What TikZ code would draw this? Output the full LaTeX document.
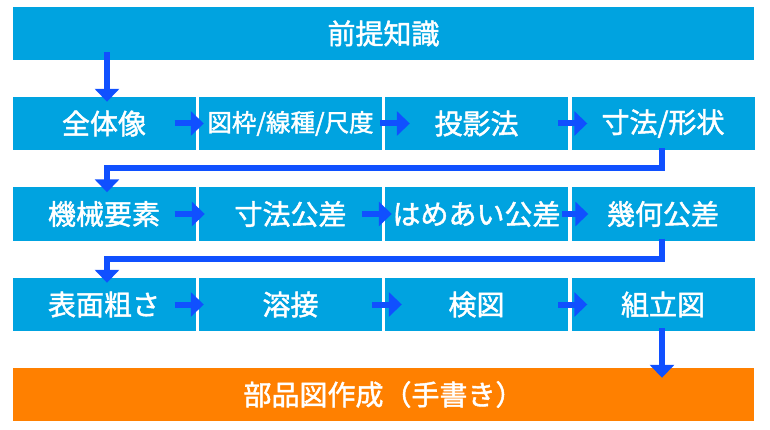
\documentclass[tikz,border=0pt]{standalone}
\usepackage{fontspec}
\newfontfamily\jp[FakeBold=1.6]{Noto Sans CJK JP}
\usetikzlibrary{arrows.meta,calc}
\definecolor{boxblue}{RGB}{0,163,224}
\definecolor{arrblue}{RGB}{16,80,255}
\definecolor{boxorange}{RGB}{255,128,0}
\begin{document}
\begin{tikzpicture}[x=1pt,y=-1pt,
  cell/.style={fill=boxblue, minimum width=183pt, minimum height=53pt, inner sep=0pt, text=white, font=\jp\fontsize{28}{28}\selectfont},
  wide/.style={cell, minimum width=741pt},
  flow/.style={draw=arrblue, line width=6pt, -{Triangle[width=24pt,length=13pt]}}]
\useasboundingbox (0,0) rectangle (770,430);
\node[wide] (top) at (383.5,33.5) {前提知識};
\node[cell] (r11) at (104,123.5) {全体像};
\node[cell, font=\jp\fontsize{24.5}{24.5}\selectfont] (r12) at (290.5,123.5) {図枠/線種/尺度};
\node[cell] (r13) at (476.5,123.5) {投影法};
\node[cell] (r14) at (663,123.5) {寸法/形状};
\node[cell] (r21) at (104,214) {機械要素};
\node[cell] (r22) at (290.5,214) {寸法公差};
\node[cell] (r23) at (476.5,214) {はめあい公差};
\node[cell] (r24) at (663,214) {幾何公差};
\node[cell] (r31) at (104,304.5) {表面粗さ};
\node[cell] (r32) at (290.5,304.5) {溶接};
\node[cell] (r33) at (476.5,304.5) {検図};
\node[cell] (r34) at (663,304.5) {組立図};
\node[wide, fill=boxorange] (bot) at (383.5,394.5) {部品図作成（手書き）};
% vertical and wrap-around connectors
\draw[flow] ($(top.south -| r11.north)+(3,-8)$) -- ($(r11.north)+(3,5)$);
\draw[flow] ($(r14.south)+(-1,-2)$) |- ($(r21.north)+(3,-19)$) -- ($(r21.north)+(3,5)$);
\draw[flow] ($(r24.south)+(-1,-2)$) |- ($(r31.north)+(3,-19)$) -- ($(r31.north)+(3,5)$);
\draw[flow] ($(r34.south)+(-1,-3)$) -- ($(bot.north -| r34.south)+(-1,10)$);
% row 1
\draw[flow] ($(r11.east)+(-21,0)$) -- ($(r12.west)+(5,0)$);
\draw[flow] ($(r12.east)+(-2,0)$) -- ($(r13.west)+(25,0)$);
\draw[flow] ($(r13.east)+(-10,0)$) -- ($(r14.west)+(16,0)$);
% row 2
\draw[flow] ($(r21.east)+(-21,0)$) -- ($(r22.west)+(6,0)$);
\draw[flow] ($(r22.east)+(-20,0)$) -- ($(r23.west)+(7,0)$);
\draw[flow] ($(r23.east)+(-6,0)$) -- ($(r24.west)+(17,0)$);
% row 3
\draw[flow] ($(r31.east)+(-21,0)$) -- ($(r32.west)+(5,0)$);
\draw[flow] ($(r32.east)+(-10,0)$) -- ($(r33.west)+(17,0)$);
\draw[flow] ($(r33.east)+(-10,0)$) -- ($(r34.west)+(16,0)$);
\end{tikzpicture}
\end{document}
